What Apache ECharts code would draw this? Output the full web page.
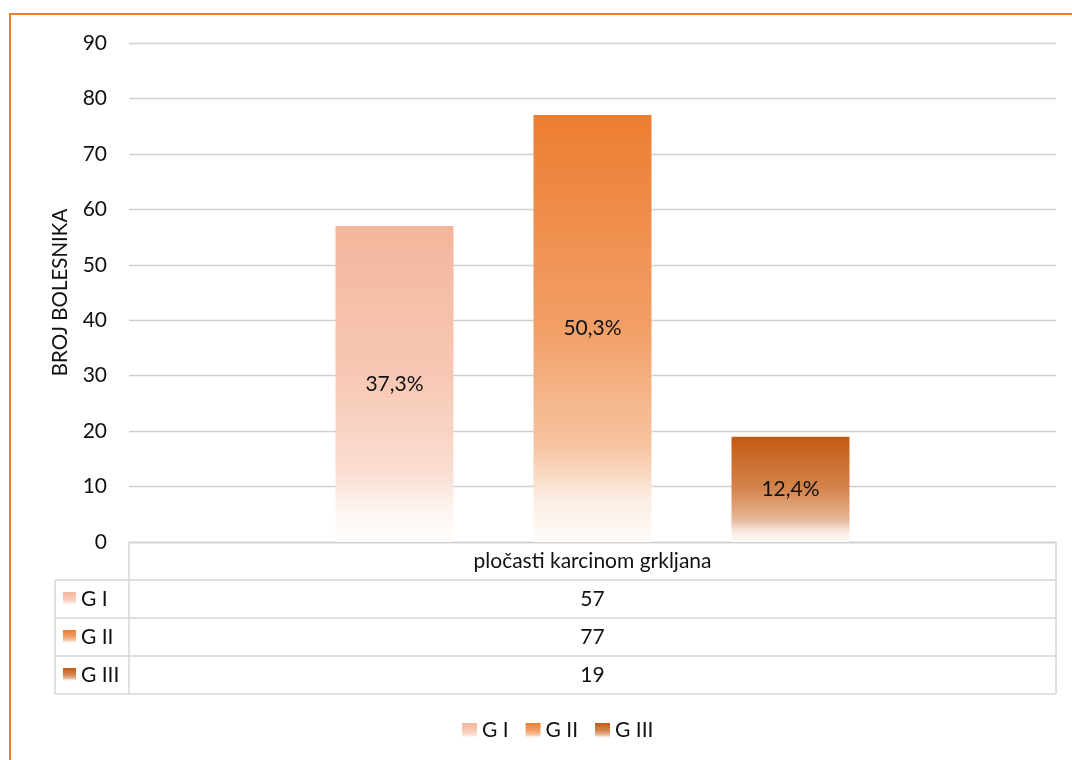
<!DOCTYPE html>
<html>
<head>
<meta charset="utf-8">
<script src="https://cdn.jsdelivr.net/npm/echarts@6/dist/echarts.min.js"></script>
<style>
html,body{margin:0;padding:0;background:#fff;}
#c{width:1072px;height:760px;}
</style>
</head>
<body>
<div id="c"></div>
<script>
var categories = ['pločasti karcinom grkljana'];
var seriesNames = ['G I', 'G II', 'G III'];
var valuesGI = [57];
var valuesGII = [77];
var valuesGIII = [19];
var percentLabels = ['37,3%', '50,3%', '12,4%'];
var yTicks = [0, 10, 20, 30, 40, 50, 60, 70, 80, 90];
var baseColors = ['#F4B69C', '#ED7D31', '#C55A11'];

var FONT = 'Lato, "Open Sans", sans-serif';
var TXT = '#111111';
var FS = 21;

function mix(hex, m) {
  var r = parseInt(hex.substr(1,2),16), g = parseInt(hex.substr(3,2),16), b = parseInt(hex.substr(5,2),16);
  function f(v){ return Math.round(255 - m*(255 - v)); }
  return 'rgb(' + f(r) + ',' + f(g) + ',' + f(b) + ')';
}
function grad(hex) {
  return new echarts.graphic.LinearGradient(0, 0, 0, 1, [
    {offset: 0, color: mix(hex, 1)},
    {offset: 0.5, color: mix(hex, 0.74)},
    {offset: 0.78, color: mix(hex, 0.45)},
    {offset: 0.9, color: mix(hex, 0.14)},
    {offset: 1, color: mix(hex, 0.02)}
  ]);
}

var allValues = [valuesGI, valuesGII, valuesGIII];
var series = seriesNames.map(function(n, i) {
  return {
    name: n,
    type: 'bar',
    data: allValues[i],
    barWidth: 118,
    barGap: '67.8%',
    itemStyle: {color: grad(baseColors[i])},
    label: {
      show: true, position: 'inside', color: TXT, fontSize: FS, fontFamily: FONT,
      formatter: function() { return percentLabels[i]; }
    },
    emphasis: {disabled: true}
  };
});

var chart = echarts.init(document.getElementById('c'));
var option = {
  animation: false,
  textStyle: {fontFamily: FONT},
  grid: {left: 129, right: 16, top: 43, bottom: 218, containLabel: false},
  legend: {
    data: seriesNames, bottom: 14, left: 457, icon: 'rect',
    itemWidth: 15, itemHeight: 15, itemGap: 17,
    textStyle: {fontSize: FS, color: TXT, fontFamily: FONT}
  },
  xAxis: {
    type: 'category', data: categories,
    axisLine: {lineStyle: {color: '#D0D0D0', width: 1.3}},
    axisTick: {show: false},
    axisLabel: {color: TXT, fontSize: FS, fontFamily: FONT, margin: 9}
  },
  yAxis: {
    type: 'value', min: 0, max: 90, interval: 10,
    name: 'BROJ BOLESNIKA', nameLocation: 'middle', nameGap: 58,
    nameTextStyle: {fontSize: 20.5, color: TXT, fontFamily: FONT},
    axisLabel: {color: TXT, fontSize: FS, fontFamily: FONT, margin: 22,
      formatter: function(v){ return yTicks.indexOf(v) >= 0 ? String(v) : ''; }},
    axisLine: {show: false}, axisTick: {show: false},
    splitLine: {lineStyle: {color: '#D0D0D0', width: 1.3}}
  },
  series: series
};
chart.setOption(option);

// Data table below the axis, built from the data arrays and the grid rect
var rect = chart.getModel().getComponent('grid').coordinateSystem.getRect();
var x0 = rect.x, x1 = rect.x + rect.width, yb = chart.convertToPixel({yAxisIndex: 0}, 0);
var rowH = 38, keyColLeft = 55;
var lc = '#D6D6D6', lw = 1.5;
var els = [];
function line(ax, ay, bx, by) {
  els.push({type: 'line', shape: {x1: ax, y1: ay, x2: bx, y2: by}, style: {stroke: lc, lineWidth: lw}, silent: true});
}
var nRows = seriesNames.length;
line(x0, yb, x0, yb + rowH * (nRows + 1));
line(x1, yb, x1, yb + rowH * (nRows + 1));
line(keyColLeft, yb + rowH, keyColLeft, yb + rowH * (nRows + 1));
for (var r = 1; r <= nRows + 1; r++) line(keyColLeft, yb + rowH * r, x1, yb + rowH * r);
seriesNames.forEach(function(n, i) {
  var cy = yb + rowH * (i + 1) + rowH / 2;
  els.push({type: 'rect', shape: {x: 63, y: cy - 7, width: 13, height: 13}, style: {fill: grad(baseColors[i])}, silent: true});
  els.push({type: 'text', x: 81, y: cy, style: {text: n, fill: TXT, fontSize: FS, fontFamily: FONT, verticalAlign: 'middle', align: 'left'}, silent: true});
  els.push({type: 'text', x: (x0 + x1) / 2, y: cy, style: {text: String(allValues[i][0]), fill: TXT, fontSize: FS, fontFamily: FONT, verticalAlign: 'middle', align: 'center'}, silent: true});
});
// Orange frame
els.push({type: 'rect', shape: {x: 10, y: 14, width: 1200, height: 900}, style: {fill: 'none', stroke: '#ED7D31', lineWidth: 2}, silent: true});
chart.setOption({graphic: {elements: els}});
</script>
</body>
</html>
